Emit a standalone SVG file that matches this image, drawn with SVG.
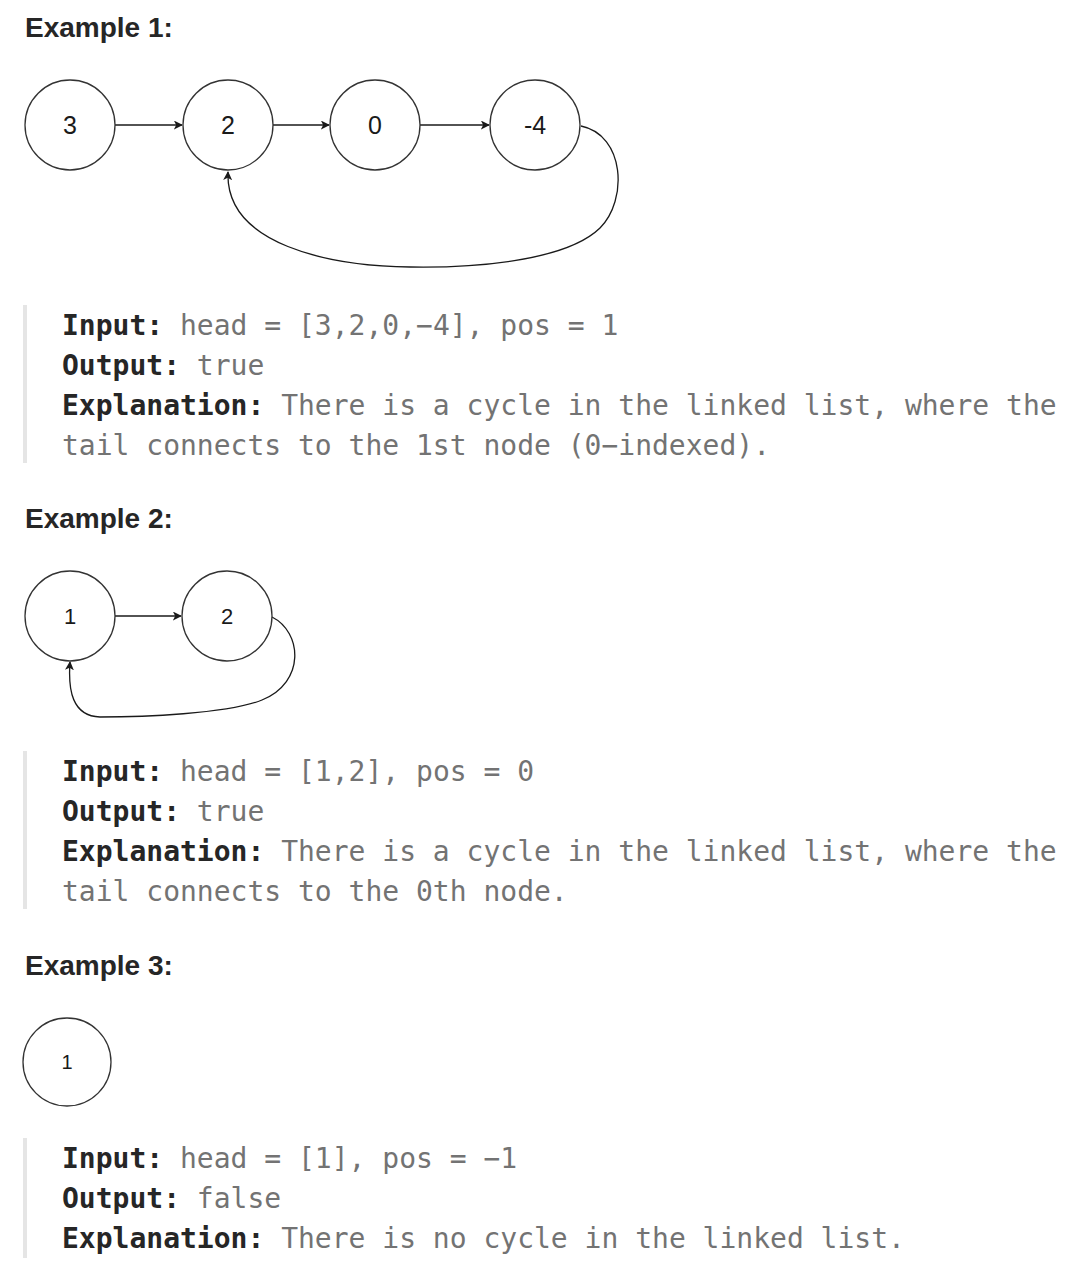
<svg xmlns="http://www.w3.org/2000/svg" width="1078" height="1282" viewBox="0 0 1078 1282">
<style>
.h{font-family:"Liberation Sans",Arial,sans-serif;font-weight:bold;font-size:28px;fill:#262626}
.n{fill:#fff;stroke:#333;stroke-width:1.3}
.nt{font-family:"Liberation Sans",Arial,sans-serif;fill:#1a1a1a;text-anchor:middle;dominant-baseline:central}
.e{fill:none;stroke:#1a1a1a;stroke-width:1.3}
.m{font-family:"DejaVu Sans Mono",Menlo,monospace;font-size:28px;fill:#737373}
.b{fill:#262626;font-weight:bold}
.bar{fill:#e5e5e5}
</style>
<defs>
<marker id="ar" viewBox="0 0 10 10" refX="9" refY="5" markerWidth="9" markerHeight="9" markerUnits="userSpaceOnUse" orient="auto">
<path d="M0,0 L10,5 L0,10 L2.5,5 Z" fill="#1a1a1a"/>
</marker>
</defs>
<rect width="1078" height="1282" fill="#fff"/>

<text class="h" x="25" y="37">Example 1:</text>
<text class="h" x="25" y="528">Example 2:</text>
<text class="h" x="25" y="975">Example 3:</text>

<g id="connectors">
<line class="e" x1="115" y1="125" x2="182" y2="125" marker-end="url(#ar)"/>
<line class="e" x1="273" y1="125" x2="329" y2="125" marker-end="url(#ar)"/>
<line class="e" x1="420" y1="125" x2="489" y2="125" marker-end="url(#ar)"/>
<path class="e" d="M581 126 C625 135 628 200 600 228 C565 262 470 268 410 267 C330 266 225 245 228 172" marker-end="url(#ar)"/>
<line class="e" x1="115" y1="616" x2="181" y2="616" marker-end="url(#ar)"/>
<path class="e" d="M272 617 C302 632 306 682 262 700 C228 714 140 717 100 717 C72 716 68 690 70 662" marker-end="url(#ar)"/>
</g>

<g id="n1-3"><circle class="n" cx="70" cy="125" r="45"/><text class="nt" x="70" y="125" font-size="25">3</text></g>
<g id="n1-2"><circle class="n" cx="228" cy="125" r="45"/><text class="nt" x="228" y="125" font-size="25">2</text></g>
<g id="n1-0"><circle class="n" cx="375" cy="125" r="45"/><text class="nt" x="375" y="125" font-size="25">0</text></g>
<g id="n1-m4"><circle class="n" cx="535" cy="125" r="45"/><text class="nt" x="535" y="125" font-size="25">-4</text></g>

<g id="n2-1"><circle class="n" cx="70" cy="616" r="45"/><text class="nt" x="70" y="616" font-size="22">1</text></g>
<g id="n2-2"><circle class="n" cx="227" cy="616" r="45"/><text class="nt" x="227" y="616" font-size="22">2</text></g>

<g id="n3-1"><circle class="n" cx="67" cy="1062" r="44"/><text class="nt" x="67" y="1062" font-size="20">1</text></g>

<rect class="bar" x="23" y="305" width="4" height="158"/>
<text class="m" x="62" y="335"><tspan class="b">Input:</tspan> head = [3,2,0,−4], pos = 1</text>
<text class="m" x="62" y="375"><tspan class="b">Output:</tspan> true</text>
<text class="m" x="62" y="415"><tspan class="b">Explanation:</tspan> There is a cycle in the linked list, where the</text>
<text class="m" x="62" y="455">tail connects to the 1st node (0−indexed).</text>

<rect class="bar" x="23" y="751" width="4" height="158"/>
<text class="m" x="62" y="781"><tspan class="b">Input:</tspan> head = [1,2], pos = 0</text>
<text class="m" x="62" y="821"><tspan class="b">Output:</tspan> true</text>
<text class="m" x="62" y="861"><tspan class="b">Explanation:</tspan> There is a cycle in the linked list, where the</text>
<text class="m" x="62" y="901">tail connects to the 0th node.</text>

<rect class="bar" x="23" y="1138" width="4" height="120"/>
<text class="m" x="62" y="1168"><tspan class="b">Input:</tspan> head = [1], pos = −1</text>
<text class="m" x="62" y="1208"><tspan class="b">Output:</tspan> false</text>
<text class="m" x="62" y="1248"><tspan class="b">Explanation:</tspan> There is no cycle in the linked list.</text>
</svg>
